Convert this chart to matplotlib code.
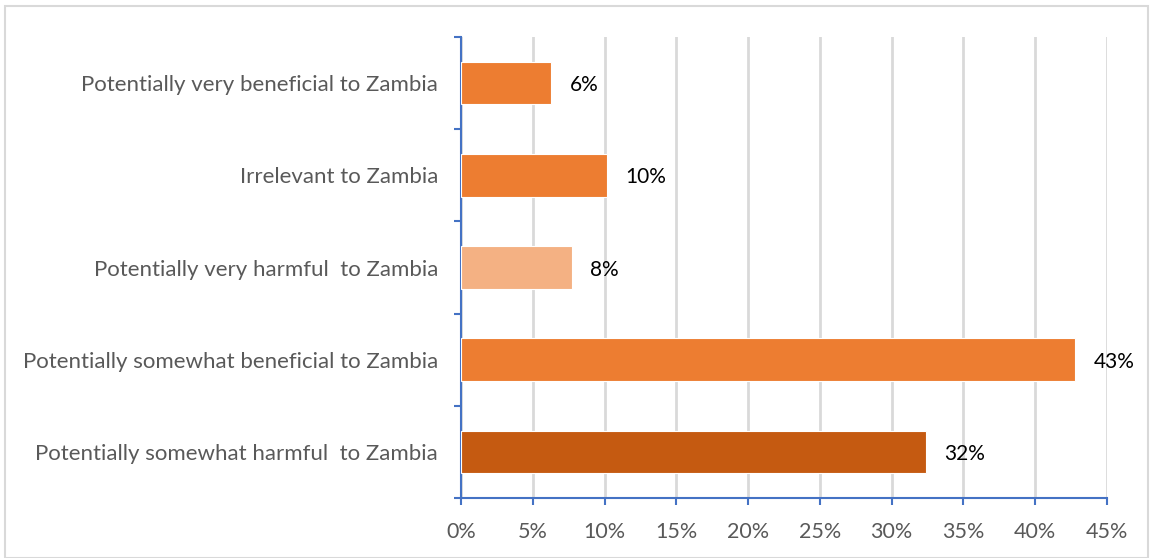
import numpy as np
import matplotlib.pyplot as plt
from matplotlib.patches import Rectangle
from matplotlib.ticker import FuncFormatter

# survey responses, listed bottom-to-top as drawn
categories = [
    "Potentially somewhat harmful  to Zambia",
    "Potentially somewhat beneficial to Zambia",
    "Potentially very harmful  to Zambia",
    "Irrelevant to Zambia",
    "Potentially very beneficial to Zambia",
]
shares = [32.4, 42.8, 7.7, 10.2, 6.3]
bar_colors = ["#C55A11", "#ED7D31", "#F4B183", "#ED7D31", "#ED7D31"]
x_ticks = [0, 5, 10, 15, 20, 25, 30, 35, 40, 45]

plt.rcParams['font.family'] = ['Lato', 'DejaVu Sans']

fig = plt.figure(figsize=(11.52, 5.58), dpi=100)
ax = fig.add_axes([461/1152, 1 - 498/558, (1107 - 461)/1152, (498 - 37)/558])

# light frame round the whole chart area
fig.patches.append(Rectangle((5/1152, 0), 1143/1152, 1 - 6/558, transform=fig.transFigure,
                             fill=False, edgecolor='#d9d9d9', linewidth=1.5))

y = np.arange(len(categories))
ax.barh(y, shares, height=0.46, color=bar_colors, edgecolor='white', linewidth=0.8, zorder=3)

for yi, v in zip(y, shares):
    ax.annotate(f"{v:.0f}%", (v, yi), xytext=(13, -1.5), textcoords='offset points',
                ha='left', va='center', fontsize=15, color='black')

ax.set_xlim(0, 45)
ax.set_ylim(-0.5, len(categories) - 0.5)
ax.set_xticks(x_ticks)
ax.xaxis.set_major_formatter(FuncFormatter(lambda v, p: f"{v:.0f}%"))
ax.grid(axis='x', color='#d9d9d9', linewidth=2, zorder=0)

ax.set_yticks(y)
ax.set_yticklabels(categories)
ax.set_yticks(np.arange(-0.5, len(categories), 1.0), minor=True)
ax.tick_params(axis='y', which='major', length=0, pad=16.5, labelsize=16, labelcolor='#595959')
ax.tick_params(axis='y', which='minor', length=5, width=1.5, color='#4472C4', direction='out')
ax.tick_params(axis='x', length=5, width=1.5, color='#4472C4', direction='out',
               pad=12, labelsize=15.5, labelcolor='#595959')

for side in ('top', 'right'):
    ax.spines[side].set_visible(False)
for side in ('left', 'bottom'):
    ax.spines[side].set_color('#4472C4')
    ax.spines[side].set_linewidth(1.5)

fig.savefig('out.png', dpi=100, facecolor='white')
